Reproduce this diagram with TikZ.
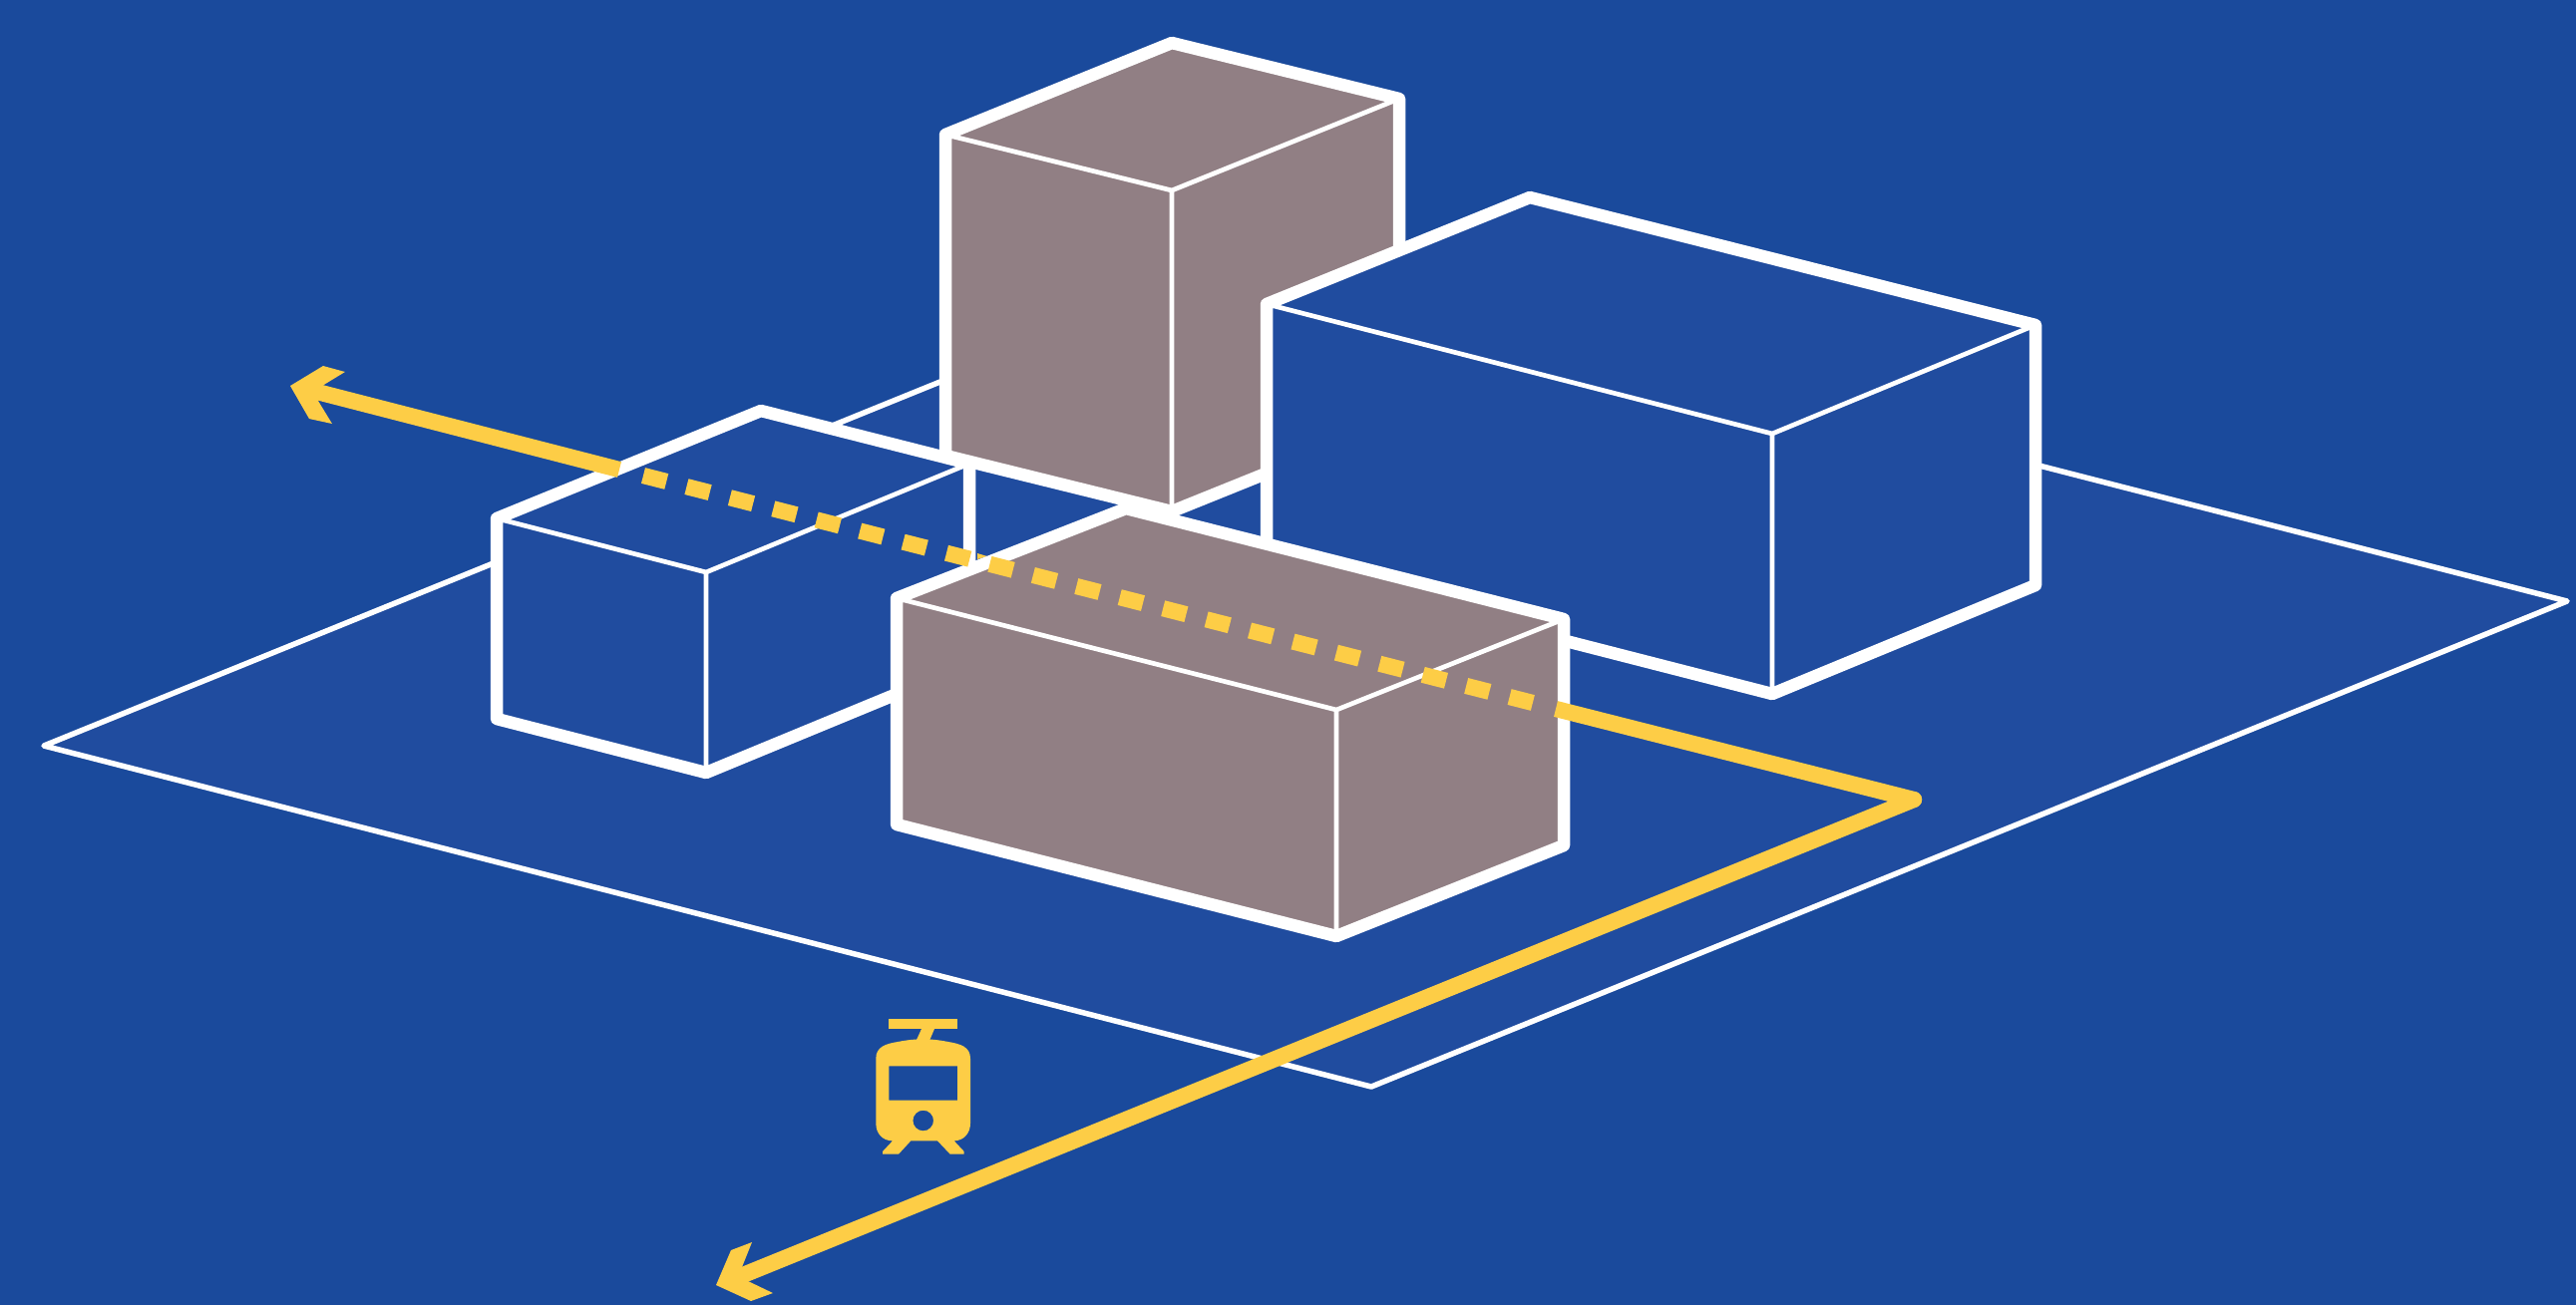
\documentclass[tikz,border=0pt]{standalone}
\usepackage{xcolor}
\usetikzlibrary{calc}
\definecolor{nightblue}{HTML}{1A4A9C}
\definecolor{groundblue}{HTML}{204C9F}
\definecolor{blockgrey}{HTML}{917F84}
\definecolor{tramyellow}{HTML}{FDCD46}
\tikzset{
  planeline/.style={draw=white, line width=0.055cm, line join=round, fill=groundblue},
  blockedge/.style={draw=white, line width=0.125cm, line join=round},
  blockseam/.style={draw=white, line width=0.047cm},
  tramline/.style={draw=tramyellow, line width=0.162cm, line join=round},
  tramdash/.style={tramline, dash pattern=on 0.24cm off 0.208cm},
  tramhead/.style={fill=tramyellow},
}
\newcommand{\cityblock}[6]{%
  \fill[#1] (#2) -- (#3) -- (#4) -- ++(0,#6) -- ($(#5)+(0,#6)$) -- ($(#2)+(0,#6)$) -- cycle;
  \draw[blockseam] (#2) -- (#5) -- (#4) (#5) -- ++(0,#6);
  \draw[blockedge] (#2) -- (#3) -- (#4) -- ++(0,#6) -- ($(#5)+(0,#6)$) -- ($(#2)+(0,#6)$) -- cycle;
}

\begin{document}
\begin{tikzpicture}[x=0.01cm, y=-0.01cm]
    \useasboundingbox (0,0) rectangle (2583,1308.6);
    \fill[nightblue] (-5,-5) rectangle (2590,1315);
    % ground
    \draw[planeline] (44,748) -- (1243,261) -- (2574,603) -- (1375,1090) -- cycle;
    % blocks, back to front
    \cityblock{groundblue}{498,520}{763,412}{972,465}{708,574}{201}
    \cityblock{blockgrey}{948,135}{1175,43}{1403,99}{1175,191}{322}
    \cityblock{groundblue}{1270,305}{1534,198}{2041,326}{1777,435}{261}
    \fill[tramyellow] (980,555) -- (990,558) -- (980,561) -- cycle;
    \cityblock{blockgrey}{899,600}{1129,510}{1568,621}{1340,712}{227}
    % tram line
    \coordinate (bend) at (1919,802);
    \draw[tramline] (316,392.5) -- (621,471);
    \draw[tramdash] (645,477) -- (1537,705);
    \draw[tramline] (1560,711) -- (bend) -- (735,1283);
    \draw[tramline, line cap=round] (bend) -- ++(-1,0);
    \fill[tramhead] (291,387) -- (324,367) -- (346,373) -- (323,387) -- (319,402) -- (333,425) -- (310,420) -- cycle;
    \fill[tramhead] (718,1289) -- (733,1254) -- (754,1246) -- (744,1271) -- (750,1285) -- (775,1297) -- (753,1305) -- cycle;
    % tram
    \fill[tramhead] (891.3,1022) rectangle (960,1032.3);
    \fill[tramhead] (924,1032) -- (937,1032) -- (932.3,1043) -- (919,1043) -- cycle;
    \fill[tramhead, even odd rule] (878.3,1061.7) .. controls (878.3,1050) and (888,1047) .. (900,1045)
      .. controls (910,1043) and (918,1042.3) .. (925.7,1042.3)
      .. controls (933,1042.3) and (941,1043) .. (951,1045)
      .. controls (963,1047) and (973,1050) .. (973,1061.7) -- (973,1126.7)
      .. controls (973,1137) and (966,1144.3) .. (956.7,1144.3) -- (966.7,1155) -- (966.7,1157.7) -- (952.7,1157.7) -- (940,1144.3)
      -- (913.3,1144.3) -- (901,1157.7) -- (885,1157.7) -- (885,1155) -- (895,1144.3)
      .. controls (885,1144.3) and (878.3,1137) .. (878.3,1126.7) -- cycle
      (891.3,1069.3) rectangle (960,1103.7)
      (925.7,1124) circle (10.3);
  \end{tikzpicture}
\end{document}
